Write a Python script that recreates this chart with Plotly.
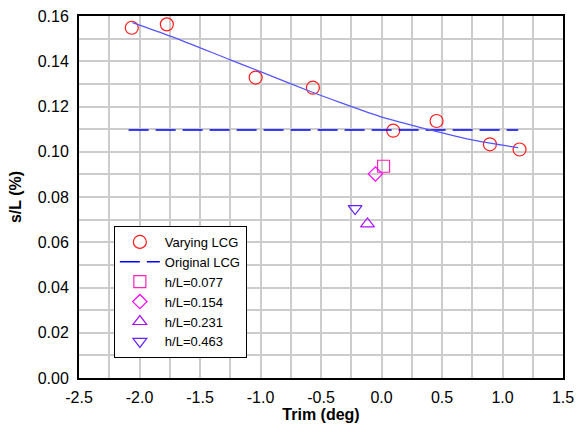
import plotly.graph_objects as go

# Varying LCG measured points
vary_trim = [-2.064, -1.774, -1.040, -0.567, 0.097, 0.455, 0.896, 1.141]
vary_sl = [0.1548, 0.1563, 0.1328, 0.1283, 0.1093, 0.1136, 0.1033, 0.1010]

# Fitted curve through varying LCG
fit_trim = [-2.058, -1.740, -1.244, -0.996, -0.582, -0.333, 0.011, 0.384, 0.770, 1.129]
fit_sl = [0.1571, 0.1510, 0.1405, 0.1353, 0.1265, 0.1216, 0.1152, 0.1099, 0.1050, 0.1018]

# Original LCG reference line
orig_trim = [-2.09, 1.13]
orig_sl = [0.1096, 0.1096]

# Individual h/L cases
hl_names = ["h/L=0.077", "h/L=0.154", "h/L=0.231", "h/L=0.463"]
hl_trim = [0.017, -0.050, -0.116, -0.218]
hl_sl = [0.0936, 0.0902, 0.0681, 0.0749]
hl_symbols = ["square-open", "diamond-open", "triangle-up-open", "triangle-down-open"]
hl_colors = ["#ff22bb", "#ff00ff", "#aa11ff", "#6622ff"]
hl_sizes = [12, 11, 12, 12]

# Tick labels (plain hyphen minus as in the reference)
x_tickvals = [-2.5, -2.0, -1.5, -1.0, -0.5, 0.0, 0.5, 1.0, 1.5]
x_ticktext = ["-2.5", "-2.0", "-1.5", "-1.0", "-0.5", "0.0", "0.5", "1.0", "1.5"]
y_tickvals = [0.00, 0.02, 0.04, 0.06, 0.08, 0.10, 0.12, 0.14, 0.16]
y_ticktext = ["0.00", "0.02", "0.04", "0.06", "0.08", "0.10", "0.12", "0.14", "0.16"]

font_family = "Liberation Sans, Arial, sans-serif"

fig = go.Figure()

fig.add_trace(go.Scatter(
    x=vary_trim, y=vary_sl, mode="markers", name="Varying LCG",
    marker=dict(symbol="circle-open", size=13, color="#ff1a1a", line=dict(width=1.2)),
))
fig.add_trace(go.Scatter(
    x=orig_trim, y=orig_sl, mode="lines", name="Original LCG",
    line=dict(color="#0000ff", width=1.5, dash="20px,7px"),
))
fig.add_trace(go.Scatter(
    x=fit_trim, y=fit_sl, mode="lines", showlegend=False,
    line=dict(color="#5555ff", width=1.2, shape="spline", smoothing=0.8),
))
for name, xv, yv, sym, col, sz in zip(hl_names, hl_trim, hl_sl, hl_symbols, hl_colors, hl_sizes):
    fig.add_trace(go.Scatter(
        x=[xv], y=[yv], mode="markers", name=name,
        marker=dict(symbol=sym, size=sz, color=col, line=dict(width=1.2)),
    ))

grid_col = "#cccccc"
fig.update_layout(
    width=579, height=432,
    margin=dict(l=79, r=16, t=16, b=54),
    paper_bgcolor="white", plot_bgcolor="white",
    font=dict(family=font_family, color="black", size=16),
    showlegend=True,
    legend=dict(
        x=0.072, y=0.42, xanchor="left", yanchor="top",
        bgcolor="white", bordercolor="black", borderwidth=1,
        font=dict(size=13, family=font_family),
        itemwidth=40, tracegroupgap=0,
        entrywidth=102, entrywidthmode="pixels",
    ),
    xaxis=dict(
        range=[-2.5, 1.5], tickmode="array", tickvals=x_tickvals, ticktext=x_ticktext,
        showgrid=True, gridcolor=grid_col, gridwidth=1.5,
        minor=dict(dtick=0.25, tick0=-2.5, showgrid=True, gridcolor=grid_col, gridwidth=1.5),
        showline=True, linecolor="black", linewidth=2, mirror=True,
        ticks="outside", ticklen=4, tickcolor="rgba(0,0,0,0)",
        zeroline=False, automargin=False,
        title=dict(text="<b>Trim (deg)</b>", font=dict(size=16), standoff=2),
        tickfont=dict(size=16),
    ),
    yaxis=dict(
        range=[0, 0.16], tickmode="array", tickvals=y_tickvals, ticktext=y_ticktext,
        showgrid=True, gridcolor=grid_col, gridwidth=1.5,
        minor=dict(dtick=0.01, tick0=0, showgrid=True, gridcolor=grid_col, gridwidth=1.5),
        showline=True, linecolor="black", linewidth=2, mirror=True,
        ticks="outside", ticklen=5, tickcolor="rgba(0,0,0,0)",
        zeroline=False, automargin=False,
        title=dict(text="<b>s/L (%)</b>", font=dict(size=16), standoff=12),
        tickfont=dict(size=16),
    ),
)

fig.write_html(
    "out.html",
    config={"displayModeBar": False},
    post_script="document.body.style.margin='0';document.body.style.overflow='hidden';",
)
